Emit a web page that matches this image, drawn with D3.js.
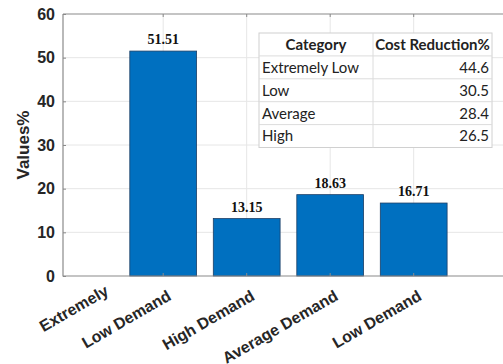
<!DOCTYPE html>
<html>
<head>
<meta charset="utf-8">
<script src="https://cdn.jsdelivr.net/npm/d3@7"></script>
<style>
  html, body { margin: 0; padding: 0; background: #fff; }
  svg { display: block; }
</style>
</head>
<body>
<svg id="chart" width="503" height="364"></svg>
<script>
// Bar categories (the first one has no bar)
const categories = ["Extremely", "Low Demand", "High Demand", "Average Demand", "Low Demand"];
const values = [null, 51.51, 13.15, 18.63, 16.71];
const yTicks = [0, 10, 20, 30, 40, 50, 60];

// Inset table
const tableHeader = ["Category", "Cost Reduction%"];
const tableCategories = ["Extremely Low", "Low", "Average", "High"];
const tableValues = [44.6, 30.5, 28.4, 26.5];

const W = 503, H = 364;
const svg = d3.select("#chart");

const plot = { left: 63, top: 14, bottom: 276 };

const x = d3.scaleLinear().domain([-0.2, 5.2]).range([plot.left, plot.left + 5.4 * 83.5]);
const step = x(1) - x(0);
const barW = step * 0.8;
const y = d3.scaleLinear().domain([0, 60]).range([plot.bottom, plot.top]);

const g = svg.append("g");

// grid
const barIdx = values.map((v, i) => i).filter(i => values[i] != null);
g.append("g").selectAll("line").data(barIdx).join("line")
  .attr("x1", i => x(i)).attr("x2", i => x(i))
  .attr("y1", plot.top).attr("y2", plot.bottom)
  .attr("stroke", "#e6e6e6").attr("stroke-width", 1);
g.append("g").selectAll("line").data(yTicks.slice(1, -1)).join("line")
  .attr("x1", plot.left).attr("x2", W)
  .attr("y1", d => y(d)).attr("y2", d => y(d))
  .attr("stroke", "#e6e6e6").attr("stroke-width", 1);

// bars
g.append("g").selectAll("rect").data(barIdx).join("rect")
  .attr("x", i => x(i) - barW / 2)
  .attr("width", barW)
  .attr("y", i => y(values[i]))
  .attr("height", i => y(0) - y(values[i]))
  .attr("fill", "#0070c0")
  .attr("stroke", "#1d3f66").attr("stroke-width", 0.8);

// value labels
g.append("g").selectAll("text").data(barIdx).join("text")
  .attr("x", i => x(i))
  .attr("y", i => y(values[i]) - 7)
  .attr("text-anchor", "middle")
  .attr("font-family", "'Liberation Serif', 'Times New Roman', serif")
  .attr("font-weight", "bold")
  .attr("font-size", 14)
  .attr("fill", "#111")
  .text(i => values[i].toFixed(2));

// axes frame
const axisColor = "#8a8a8a";
g.append("line").attr("x1", plot.left).attr("x2", plot.left)
  .attr("y1", plot.top).attr("y2", plot.bottom + 0.5)
  .attr("stroke", axisColor).attr("stroke-width", 1.2);
g.append("line").attr("x1", plot.left).attr("x2", W)
  .attr("y1", plot.bottom).attr("y2", plot.bottom)
  .attr("stroke", axisColor).attr("stroke-width", 1.2);
g.append("line").attr("x1", plot.left).attr("x2", W)
  .attr("y1", plot.top).attr("y2", plot.top)
  .attr("stroke", axisColor).attr("stroke-width", 1.2);

// y ticks + labels
const yAxis = d3.axisLeft(y).tickValues(yTicks).tickSize(-3).tickPadding(8).tickFormat(d3.format("d"));
const ya = g.append("g").attr("transform", `translate(${plot.left},0)`).call(yAxis);
ya.select(".domain").remove();
ya.selectAll(".tick line").attr("stroke", axisColor);
ya.selectAll(".tick text")
  .attr("font-family", "'Liberation Sans', Arial, sans-serif")
  .attr("font-weight", "bold").attr("font-size", 16).attr("fill", "#262626");

// x tick marks
g.append("g").selectAll("line").data(barIdx).join("line")
  .attr("x1", i => x(i)).attr("x2", i => x(i))
  .attr("y1", plot.bottom).attr("y2", plot.bottom - 3)
  .attr("stroke", axisColor);
g.append("g").selectAll("line").data(barIdx).join("line")
  .attr("x1", i => x(i)).attr("x2", i => x(i))
  .attr("y1", plot.top).attr("y2", plot.top + 3)
  .attr("stroke", axisColor);

// x labels, rotated
g.append("g").selectAll("text").data(categories).join("text")
  .attr("transform", (d, i) => {
    const nudge = values[i] == null ? [21, -5] : [0, 0];
    return `translate(${x(i) + 9 + nudge[0]},${299 + nudge[1]}) rotate(-30)`;
  })
  .attr("text-anchor", "end")
  .attr("font-family", "'Liberation Sans', Arial, sans-serif")
  .attr("font-weight", "bold").attr("font-size", 16).attr("fill", "#262626")
  .text(d => d);

// y axis title
svg.append("text")
  .attr("transform", `translate(29,${(plot.top + plot.bottom) / 2}) rotate(-90)`)
  .attr("text-anchor", "middle")
  .attr("font-family", "'Liberation Sans', Arial, sans-serif")
  .attr("font-weight", "bold").attr("font-size", 17).attr("fill", "#262626")
  .text("Values%");

// inset table
const tbl = { x: 259, y: 33, col: 114, w: 233, rowH: 22.9 };
const tg = svg.append("g");
const rows = [tableHeader].concat(tableCategories.map((c, i) => [c, tableValues[i].toFixed(1)]));
tg.append("rect").attr("x", tbl.x).attr("y", tbl.y)
  .attr("width", tbl.w).attr("height", tbl.rowH * rows.length)
  .attr("fill", "#fff").attr("stroke", "#d0d0d0");
tg.selectAll("line.h").data(d3.range(1, rows.length)).join("line")
  .attr("x1", tbl.x).attr("x2", tbl.x + tbl.w)
  .attr("y1", r => tbl.y + r * tbl.rowH).attr("y2", r => tbl.y + r * tbl.rowH)
  .attr("stroke", "#dcdcdc");
tg.append("line").attr("x1", tbl.x + tbl.col).attr("x2", tbl.x + tbl.col)
  .attr("y1", tbl.y).attr("y2", tbl.y + tbl.rowH * rows.length)
  .attr("stroke", "#dcdcdc");

rows.forEach((r, ri) => {
  const header = ri === 0;
  const cy = tbl.y + ri * tbl.rowH + tbl.rowH / 2;
  tg.append("text")
    .attr("x", header ? tbl.x + tbl.col / 2 : tbl.x + 3)
    .attr("y", cy).attr("dy", "0.36em")
    .attr("text-anchor", header ? "middle" : "start")
    .attr("font-family", "Lato, 'Open Sans', sans-serif")
    .attr("font-weight", header ? "bold" : "normal")
    .attr("font-size", 15).attr("fill", "#222")
    .text(r[0]);
  tg.append("text")
    .attr("x", header ? tbl.x + tbl.col + (tbl.w - tbl.col) / 2 : tbl.x + tbl.w - 3)
    .attr("y", cy).attr("dy", "0.36em")
    .attr("text-anchor", header ? "middle" : "end")
    .attr("font-family", "Lato, 'Open Sans', sans-serif")
    .attr("font-weight", header ? "bold" : "normal")
    .attr("font-size", 15).attr("fill", "#222")
    .text(r[1]);
});
</script>
</body>
</html>
